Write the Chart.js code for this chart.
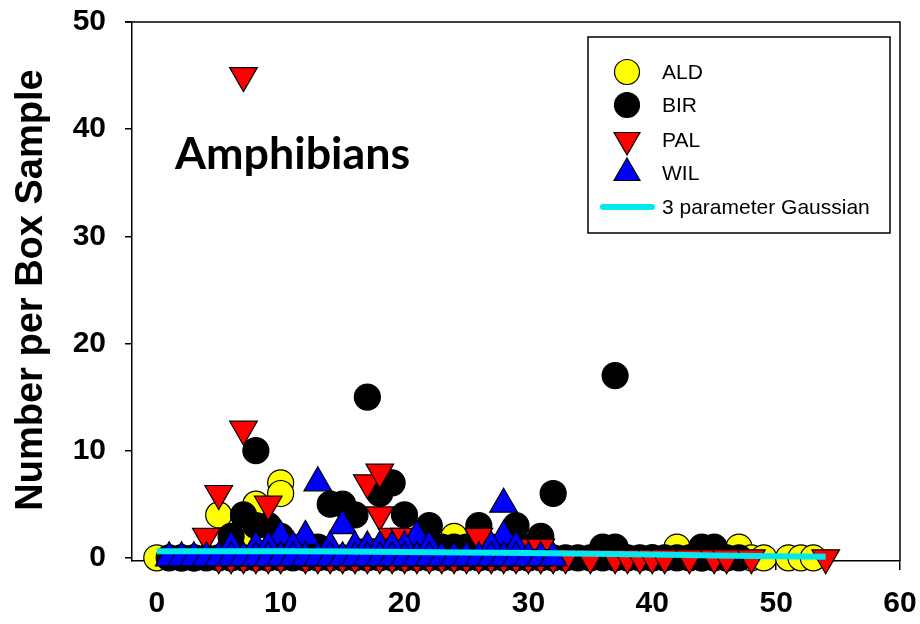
<!DOCTYPE html>
<html>
<head>
<meta charset="utf-8">
<script src="https://cdn.jsdelivr.net/npm/chart.js@4.4.1/dist/chart.umd.min.js"></script>
<style>
  html, body { margin: 0; padding: 0; background: #fff; }
  #wrap { width: 920px; height: 624px; }
</style>
</head>
<body>
<div id="wrap"><canvas id="c" width="920" height="624"></canvas></div>
<script>
// ---------- DATA ----------
const xTicks = [0, 10, 20, 30, 40, 50, 60];
const yTicks = [0, 10, 20, 30, 40, 50];

const aldX = [0, 2, 3, 5, 6, 7, 8, 9, 10, 10, 12, 20, 24, 30, 40, 42, 44, 46, 47, 48, 49, 51, 52, 53];
const aldY = [0, 0, 0, 4, 0, 2, 5, 0, 7, 6, 0, 0, 2, 0, 0, 1, 0, 0, 1, 0, 0, 0, 0, 0];

const birX = [37, 17, 8, 32, 19, 18, 14, 15, 16, 20, 7, 8, 9, 6, 22, 26, 29, 31, 36, 37, 44, 45, 10, 11, 12, 13, 23, 24, 25, 27, 28, 30,
  1, 2, 3, 4, 5, 6, 7, 8, 9, 10, 11, 12, 13, 14, 15, 16, 17, 18, 19, 20, 21, 22, 23, 24, 25, 26, 27, 28, 29, 30, 31, 32, 33, 34, 35, 36, 37, 38, 39, 40, 41, 42, 43, 44, 45, 46, 47];
const birY = [17, 15, 10, 6, 7, 6, 5, 5, 4, 4, 4, 3, 3, 2, 3, 3, 3, 2, 1, 1, 1, 1, 2, 1, 1, 1, 1, 1, 1, 1, 1, 1,
  0, 0, 0, 0, 0, 0, 0, 0, 0, 0, 0, 0, 0, 0, 0, 0, 0, 0, 0, 0, 0, 0, 0, 0, 0, 0, 0, 0, 0, 0, 0, 0, 0, 0, 0, 0, 0, 0, 0, 0, 0, 0, 0, 0, 0, 0, 0];

const palX = [7, 7, 5, 4, 9, 17, 18, 18, 19, 20, 17, 18, 21, 26, 30, 31,
  5, 6, 7, 8, 9, 10, 12, 13, 14, 15, 16, 17, 18, 19, 20, 21, 22, 23, 24, 25, 26, 27, 28, 29, 30, 31, 32, 33, 35, 37, 38, 39, 40, 41, 43, 45, 46, 48, 54];
const palY = [45, 12, 6, 2, 5, 7, 8, 4, 2, 2, 1, 1, 1, 2, 1, 1,
  0, 0, 0, 0, 0, 0, 0, 0, 0, 0, 0, 0, 0, 0, 0, 0, 0, 0, 0, 0, 0, 0, 0, 0, 0, 0, 0, 0, 0, 0, 0, 0, 0, 0, 0, 0, 0, 0, 0];

const wilX = [13, 28, 15, 28, 10, 12, 21, 20, 6, 8, 9, 11, 14, 16, 17, 18, 19, 22, 27, 29,
  1, 2, 3, 4, 5, 6, 7, 8, 9, 10, 11, 12, 13, 14, 15, 16, 17, 18, 19, 20, 21, 22, 23, 24, 25, 26, 27, 28, 29, 30, 31, 32];
const wilY = [7, 5, 3, 2, 2, 2, 2, 1, 1, 1, 1, 1, 1, 1, 1, 1, 1, 1, 1, 1,
  0, 0, 0, 0, 0, 0, 0, 0, 0, 0, 0, 0, 0, 0, 0, 0, 0, 0, 0, 0, 0, 0, 0, 0, 0, 0, 0, 0, 0, 0, 0, 0];

const fitX = [0, 5, 10, 15, 20, 25, 30, 35, 40, 45, 50, 54];
const fitY = [0.62, 0.62, 0.6, 0.58, 0.55, 0.5, 0.45, 0.38, 0.3, 0.22, 0.15, 0.1];

const seriesNames = ['ALD', 'BIR', 'PAL', 'WIL', '3 parameter Gaussian'];
const panelTitle = 'Amphibians';
const yTitle = 'Number per Box Sample';

// ---------- BUILD ----------
const pts = (xs, ys) => xs.map((x, i) => ({ x: x, y: ys[i] }));

const styles = {
  ALD: { bg: '#ffff00', shape: 'circle', rot: 0, r: 13 },
  BIR: { bg: '#000000', shape: 'circle', rot: 0, r: 13 },
  PAL: { bg: '#ff0000', shape: 'triangle', rot: 180, r: 16 },
  WIL: { bg: '#0000ff', shape: 'triangle', rot: 0, r: 16 }
};
const fitColor = '#00e8f0';

function scatterDs(name, xs, ys, order) {
  const s = styles[name];
  return {
    type: 'scatter', label: name, data: pts(xs, ys), order: order,
    pointStyle: s.shape, pointRotation: s.rot, pointRadius: s.r, pointHoverRadius: s.r,
    backgroundColor: s.bg, borderColor: '#000', pointBorderWidth: 1.2, borderWidth: 1.2,
    clip: false
  };
}

const datasets = [
  { type: 'line', label: seriesNames[4], data: pts(fitX, fitY), order: 0,
    borderColor: fitColor, borderWidth: 6, pointRadius: 0, fill: false, tension: 0, clip: false },
  scatterDs('WIL', wilX, wilY, 1),
  scatterDs('PAL', palX, palY, 2),
  scatterDs('BIR', birX, birY, 3),
  scatterDs('ALD', aldX, aldY, 4)
];

const tickFont = { family: "'Liberation Sans', Arial, sans-serif", size: 30, weight: 'bold' };

const decor = {
  id: 'decor',
  afterDraw(chart) {
    const ctx = chart.ctx;
    const a = chart.chartArea;
    ctx.save();
    ctx.strokeStyle = '#000';
    ctx.lineWidth = 1.5;
    ctx.beginPath();
    ctx.moveTo(a.left - 7, a.top);
    ctx.lineTo(a.right, a.top);
    ctx.lineTo(a.right, a.bottom);
    ctx.stroke();

    ctx.fillStyle = '#000';
    ctx.font = "bold 40px Lato, 'Open Sans', sans-serif";
    let w = ctx.measureText(panelTitle).width;
    const fs = 40 * 235 / w;
    ctx.font = "bold " + fs.toFixed(1) + "px Lato, 'Open Sans', sans-serif";
    ctx.textAlign = 'left';
    ctx.textBaseline = 'alphabetic';
    ctx.fillText(panelTitle, 175, 169);

    ctx.save();
    ctx.translate(42, 290);
    ctx.rotate(-Math.PI / 2);
    ctx.font = "bold 38px 'Liberation Sans', Arial, sans-serif";
    ctx.textAlign = 'center';
    ctx.textBaseline = 'alphabetic';
    ctx.fillText(yTitle, 0, 0);
    ctx.restore();

    const L = 588, T = 37, R = 890, B = 233;
    ctx.fillStyle = '#fff';
    ctx.fillRect(L, T, R - L, B - T);
    ctx.strokeStyle = '#000';
    ctx.lineWidth = 1.5;
    ctx.strokeRect(L, T, R - L, B - T);
    const rowsY = [72, 105, 140, 173, 207];
    const mx = 627, tx = 662;
    ctx.font = "21px 'Liberation Sans', Arial, sans-serif";
    ctx.textBaseline = 'middle';
    ctx.textAlign = 'left';
    const keys = ['ALD', 'BIR', 'PAL', 'WIL'];
    keys.forEach((k, i) => {
      const s = styles[k];
      const y = rowsY[i];
      ctx.fillStyle = s.bg;
      ctx.strokeStyle = '#000';
      ctx.lineWidth = 1.2;
      ctx.beginPath();
      if (s.shape === 'circle') {
        ctx.arc(mx, y, 12.5, 0, Math.PI * 2);
      } else {
        const r = 15;
        const rot = s.rot * Math.PI / 180;
        for (let j = 0; j < 3; j++) {
          const ang = rot + j * 2 * Math.PI / 3;
          const px = mx + Math.sin(ang) * r, py = y - Math.cos(ang) * r;
          if (j === 0) ctx.moveTo(px, py); else ctx.lineTo(px, py);
        }
        ctx.closePath();
      }
      ctx.fill();
      ctx.stroke();
      ctx.fillStyle = '#000';
      ctx.fillText(seriesNames[i], tx, y + 1);
    });
    ctx.strokeStyle = fitColor;
    ctx.lineWidth = 6;
    ctx.lineCap = 'round';
    ctx.beginPath();
    ctx.moveTo(603, rowsY[4]);
    ctx.lineTo(652, rowsY[4]);
    ctx.stroke();
    ctx.fillStyle = '#000';
    ctx.fillText(seriesNames[4], tx, rowsY[4] + 1);
    ctx.restore();
  }
};

new Chart(document.getElementById('c'), {
  type: 'scatter',
  data: { datasets: datasets },
  options: {
    responsive: false,
    animation: false,
    events: [],
    layout: { padding: { left: 0, right: 20, top: 22, bottom: 0 } },
    plugins: { legend: { display: false }, tooltip: { enabled: false } },
    scales: {
      x: {
        type: 'linear', min: -2, max: 60,
        afterFit: s => { s.height = 63; s.paddingLeft = 0; s.paddingRight = 0; },
        afterBuildTicks: s => { s.ticks = xTicks.map(v => ({ value: v })); },
        grid: { drawOnChartArea: false, drawTicks: true, tickLength: 9, color: '#000', lineWidth: 1.5 },
        border: { display: true, color: '#000', width: 1.5 },
        ticks: { font: tickFont, color: '#000', padding: 16, maxRotation: 0 }
      },
      y: {
        type: 'linear', min: -0.3, max: 50,
        afterFit: s => { s.width = 132; s.paddingTop = 0; s.paddingBottom = 0; },
        afterBuildTicks: s => { s.ticks = yTicks.map(v => ({ value: v })); },
        grid: { drawOnChartArea: false, drawTicks: true, tickLength: 7, color: '#000', lineWidth: 1.5 },
        border: { display: true, color: '#000', width: 1.5 },
        ticks: { font: tickFont, color: '#000', padding: 19 }
      }
    }
  },
  plugins: [decor]
});
</script>
</body>
</html>
